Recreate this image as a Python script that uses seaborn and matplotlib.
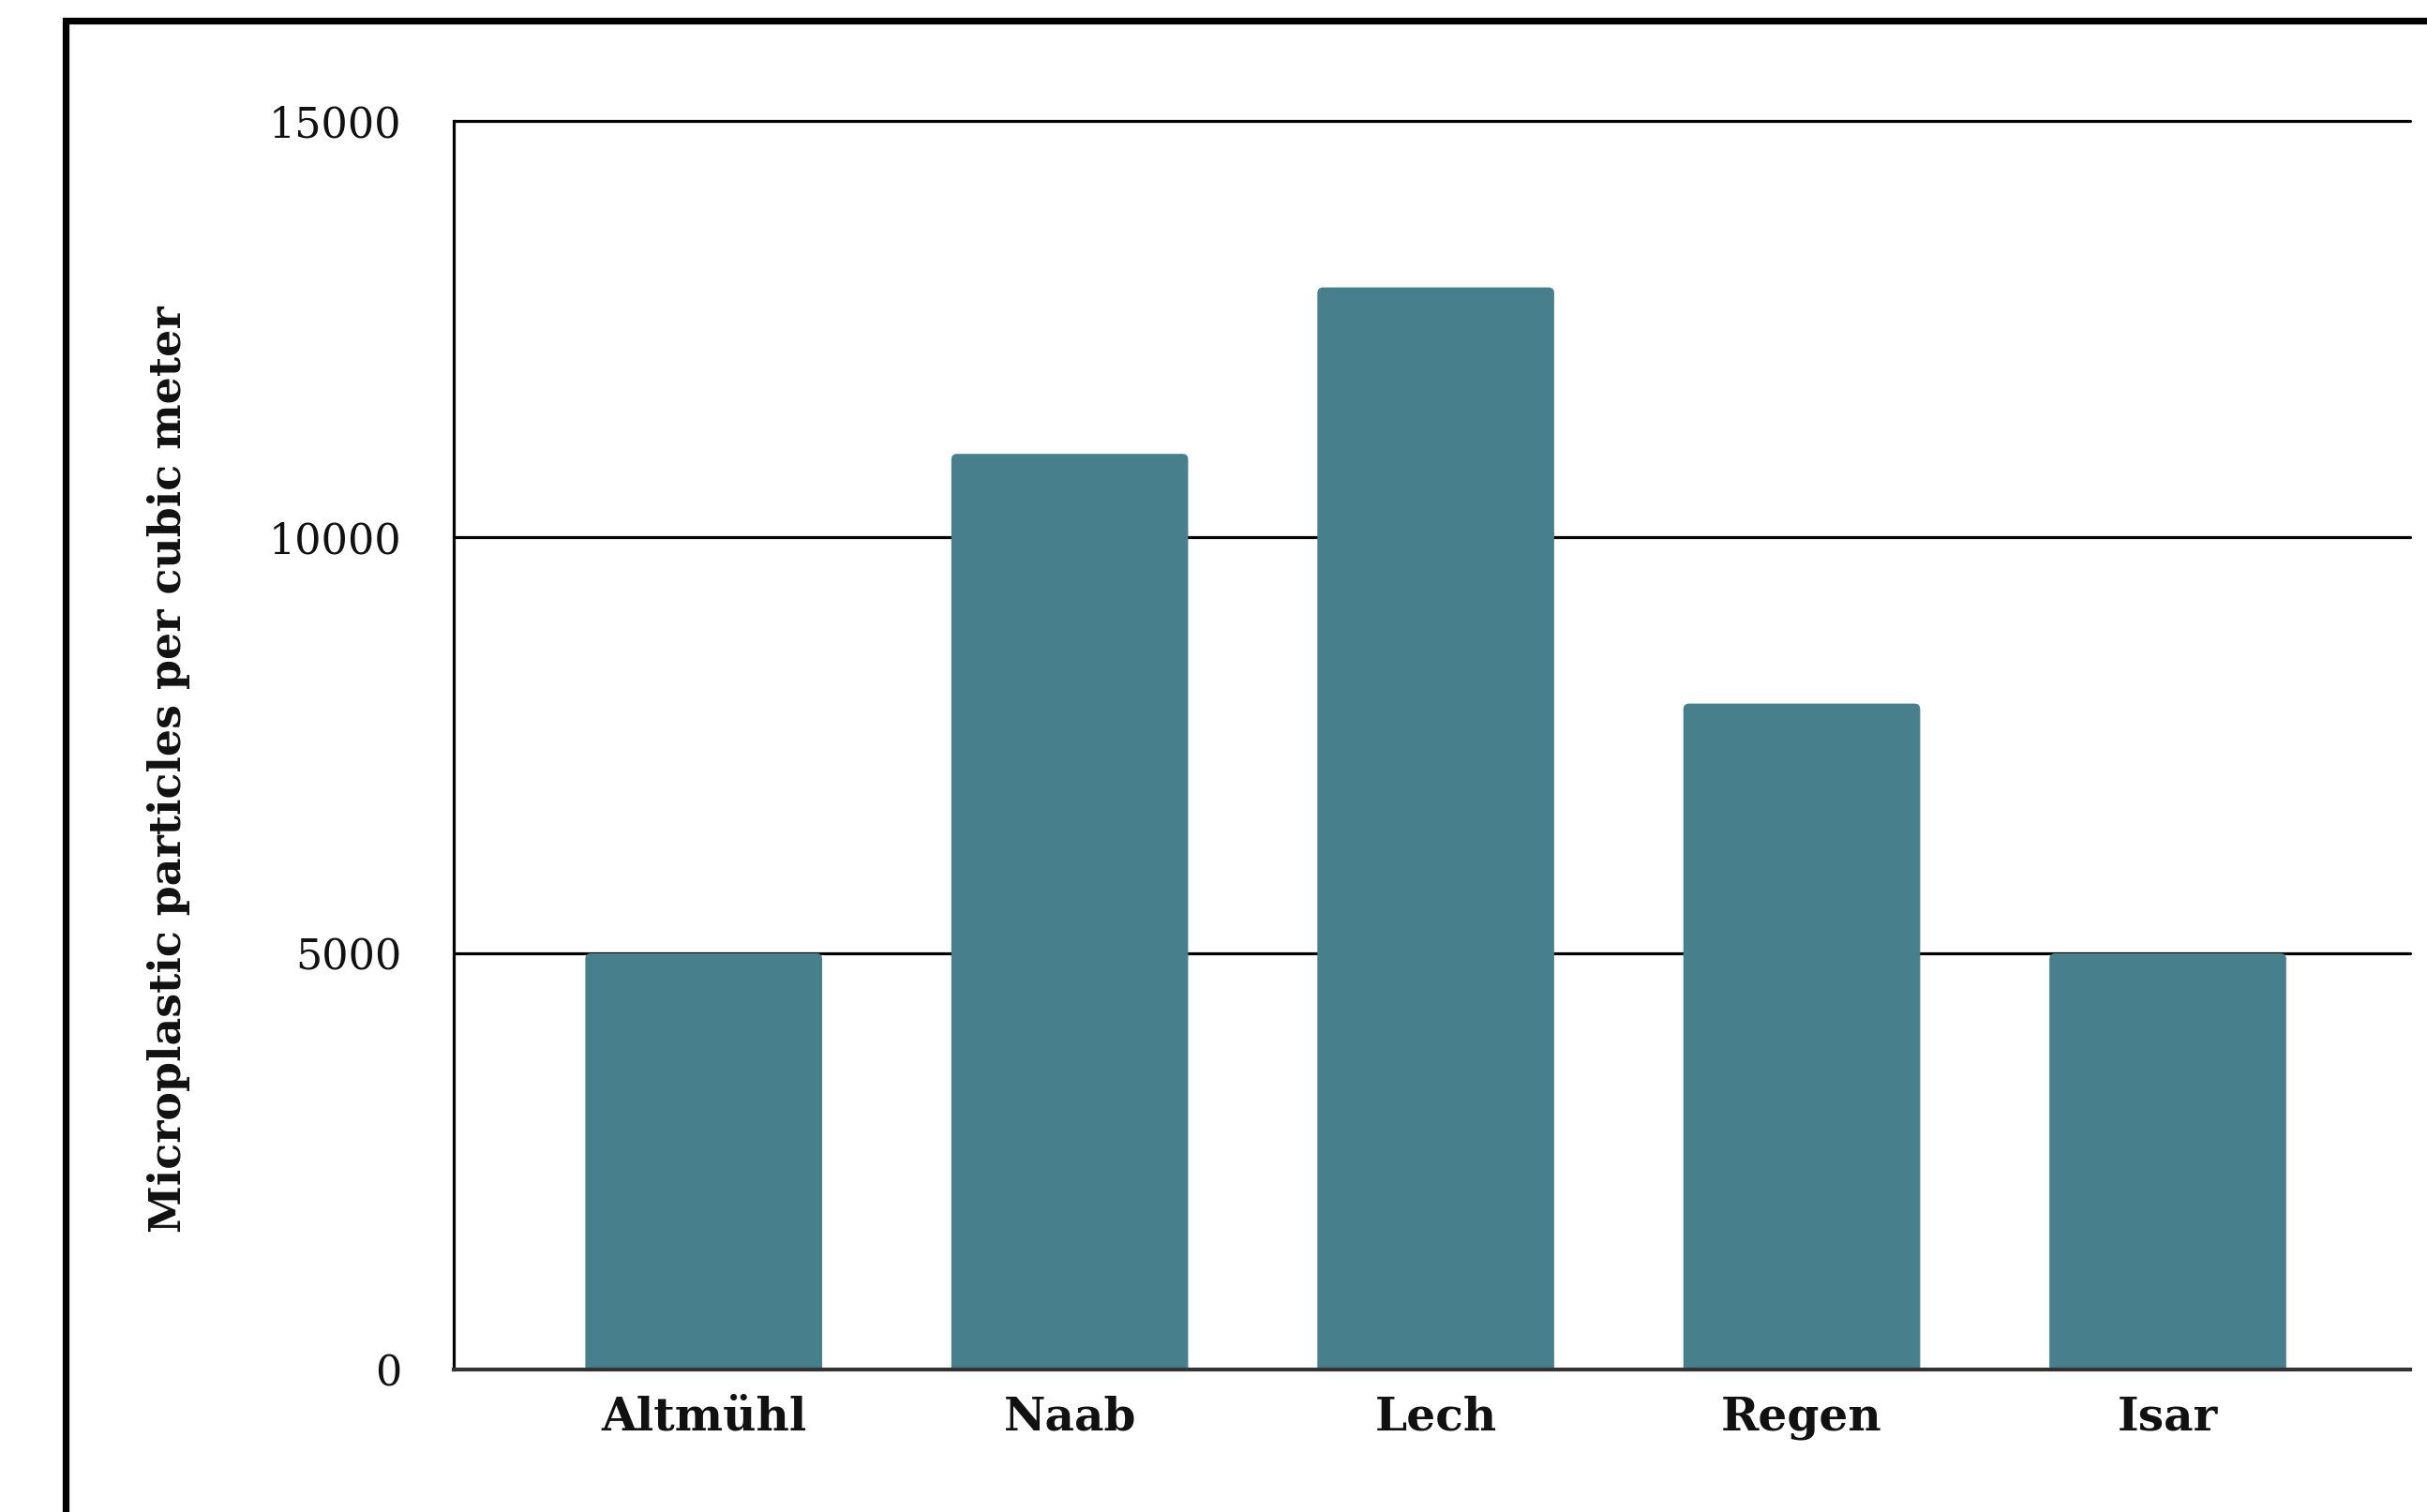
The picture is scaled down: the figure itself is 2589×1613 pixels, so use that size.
import matplotlib
matplotlib.use("Agg")
import matplotlib.pyplot as plt
from matplotlib.patches import Rectangle, FancyBboxPatch
import seaborn as sns
import pandas as pd

# Microplastic concentrations in Bavarian rivers
rivers = ["Altmühl", "Naab", "Lech", "Regen", "Isar"]
particles = [5000, 11000, 13000, 8000, 5000]
y_ticks = [0, 5000, 10000, 15000]
y_label = "Microplastic particles per cubic meter"

bar_color = "#47808c"
W, H, DPI = 2589, 1613, 100

sns.set_theme(style="white")
plt.rcParams["font.family"] = ["DejaVu Serif"]

fig = plt.figure(figsize=(W / DPI, H / DPI), dpi=DPI)
fig.patch.set_facecolor("white")

# axes placement in pixels: left, top, right, bottom
left_px, top_px, right_px, bottom_px = 484, 129, 2571, 1461
ax = fig.add_axes([left_px / W, 1 - bottom_px / H,
                   (right_px - left_px) / W, (bottom_px - top_px) / H])

df = pd.DataFrame({"river": rivers, "particles": particles})
sns.barplot(data=df, x="river", y="particles", color=bar_color,
            saturation=1, width=0.647, ax=ax, zorder=3)

ax.set_xlim(-0.683, 4.662)
ax.set_ylim(0, 15000)

# swap plain rectangles for bars with softly rounded tops
x_px_per_unit = (right_px - left_px) / (4.662 + 0.683)
y_px_per_unit = (bottom_px - top_px) / 15000
radius_px = 6
for p in list(ax.patches):
    x, w, h = p.get_x(), p.get_width(), p.get_height()
    r = radius_px / x_px_per_unit
    fancy = FancyBboxPatch((x, -400), w, h + 400,
                           boxstyle=f"round,pad=0,rounding_size={r}",
                           mutation_aspect=x_px_per_unit / y_px_per_unit,
                           facecolor=bar_color, edgecolor="none", zorder=3)
    p.remove()
    ax.add_patch(fancy)

# horizontal reference lines
for v in y_ticks[1:]:
    ax.axhline(v, color="black", lw=2.3, zorder=1, clip_on=False)

ax.set_yticks(y_ticks)
ax.set_yticklabels([str(t) for t in y_ticks], fontsize=32)
ax.tick_params(axis="y", length=18, width=2.3, color="black", pad=22,
               labelcolor="#111111")
ax.tick_params(axis="x", length=0, pad=20)
for lbl in ax.get_xticklabels():
    lbl.set_fontsize(35)
    lbl.set_fontweight("bold")
    lbl.set_color("#111111")

ax.set_xlabel("")
ax.set_ylabel(y_label, fontsize=33, fontweight="bold", color="#111111")
ax.yaxis.set_label_coords(-0.1345, 0.481)

for s in ["top", "right"]:
    ax.spines[s].set_visible(False)
ax.spines["left"].set_color("black")
ax.spines["left"].set_linewidth(2.3)
ax.spines["left"].set_zorder(4)
ax.spines["bottom"].set_color("#333333")
ax.spines["bottom"].set_linewidth(3)
ax.spines["bottom"].set_zorder(4)
ax.set_facecolor("white")

# outer frame, running past the right and bottom edges
frame = Rectangle((70 / W, -0.2), 2.0, (1 - 22 / H) + 0.2,
                  transform=fig.transFigure, fill=False,
                  edgecolor="black", lw=5.2, clip_on=False)
fig.add_artist(frame)

fig.savefig("out.png", dpi=DPI, facecolor="white")
